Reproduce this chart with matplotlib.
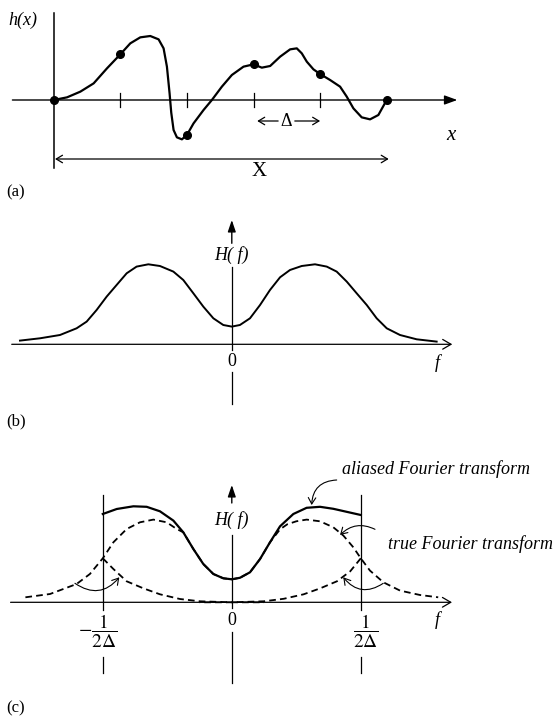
import matplotlib
matplotlib.use('Agg')
import matplotlib.pyplot as plt

plt.rcParams['font.family'] = ['Liberation Serif', 'DejaVu Serif']
plt.rcParams['mathtext.fontset'] = 'stix'

# ---------------- data ----------------
# (a) continuous function h(x), x in units of the sampling interval Delta
a_x = [0.0, 0.2, 0.4, 0.6, 0.8, 1.0, 1.15, 1.3, 1.45, 1.575, 1.65, 1.7, 1.74,
       1.765, 1.8, 1.85, 1.925, 2.0, 2.1, 2.25, 2.375, 2.525, 2.675, 2.85, 3.0,
       3.125, 3.25, 3.4, 3.55, 3.65, 3.725, 3.8, 3.9, 4.0, 4.15, 4.3, 4.4, 4.5,
       4.625, 4.75, 4.875, 5.0]
a_h = [0.0, 0.053, 0.167, 0.333, 0.633, 0.913, 1.133, 1.253, 1.28, 1.213, 1.033,
       0.667, 0.133, -0.253, -0.6, -0.747, -0.787, -0.7, -0.467, -0.2, 0.0, 0.267,
       0.5, 0.667, 0.713, 0.647, 0.68, 0.867, 1.013, 1.033, 0.933, 0.767, 0.613,
       0.52, 0.4, 0.267, 0.067, -0.167, -0.347, -0.387, -0.3, 0.0]
sample_x = [0, 1, 2, 3, 4, 5]
sample_h = [0.0, 0.913, -0.7, 0.713, 0.52, 0.0]
tick_x = [1, 2, 3, 4]

# (b) true Fourier transform H(f), f in units of 1/(2 Delta)
b_f = [-1.642, -1.487, -1.332, -1.203, -1.125, -1.048, -0.97, -0.893, -0.815,
       -0.738, -0.647, -0.557, -0.453, -0.376, -0.298, -0.221, -0.143, -0.066,
       0.0, 0.063, 0.141, 0.219, 0.296, 0.374, 0.451, 0.542, 0.645, 0.736, 0.813,
       0.891, 0.968, 1.046, 1.123, 1.201, 1.304, 1.433, 1.588]
b_H = [0.037, 0.06, 0.093, 0.16, 0.227, 0.343, 0.477, 0.593, 0.71, 0.777, 0.8,
       0.783, 0.727, 0.643, 0.51, 0.377, 0.26, 0.193, 0.177, 0.193, 0.26, 0.393,
       0.543, 0.67, 0.743, 0.783, 0.8, 0.777, 0.727, 0.627, 0.51, 0.393, 0.26,
       0.16, 0.093, 0.05, 0.027]

# (c) aliased transform (solid)
c_alias_f = [-1.0, -0.892, -0.763, -0.66, -0.557, -0.453, -0.376, -0.298, -0.221,
             -0.143, -0.066, 0.0, 0.063, 0.141, 0.219, 0.296, 0.374, 0.477, 0.58,
             0.684, 0.787, 0.89, 1.0]
c_alias_H = [0.883, 0.933, 0.96, 0.955, 0.91, 0.817, 0.7, 0.533, 0.383, 0.283,
             0.24, 0.23, 0.245, 0.3, 0.433, 0.6, 0.76, 0.883, 0.945, 0.955, 0.935,
             0.905, 0.873]
# (c) true transform (dashed)
c_true_f = [-1.6, -1.409, -1.203, -1.1, -1.0, -0.918, -0.815, -0.712, -0.608,
            -0.505, -0.427, -0.376, -0.298, -0.221, -0.143, -0.066, 0.0, 0.063,
            0.141, 0.219, 0.296, 0.374, 0.43, 0.5, 0.58, 0.684, 0.787, 0.865, 0.942,
            1.0, 1.071, 1.175, 1.304, 1.459, 1.6]
c_true_H = [0.05, 0.083, 0.183, 0.283, 0.44, 0.6, 0.733, 0.8, 0.827, 0.8, 0.733,
            0.7, 0.533, 0.383, 0.283, 0.24, 0.23, 0.245, 0.3, 0.433, 0.6, 0.73, 0.78,
            0.81, 0.827, 0.81, 0.75, 0.667, 0.55, 0.44, 0.317, 0.2, 0.117, 0.073,
            0.05]
# (c) folded (aliased) tails (dashed)
c_tailL_f = [-1.0, -0.918, -0.815, -0.686, -0.557, -0.402, -0.247, 0.0, 0.25]
c_tailL_H = [0.44, 0.333, 0.21, 0.14, 0.08, 0.033, 0.01, 0.0, 0.0]
c_tailR_f = [1.0, 0.918, 0.815, 0.686, 0.557, 0.402, 0.247, 0.0, -0.25]
c_tailR_H = [0.44, 0.31, 0.21, 0.14, 0.08, 0.035, 0.01, 0.0, 0.0]
nyquist_f = [-1, 1]

# ---------------- figure ----------------
W, HP = 554, 722
fig = plt.figure(figsize=(W / 100, HP / 100), dpi=100)


def panel(top, bot, ox, oy, sx, sy):
    ax = fig.add_axes([0, 1 - bot / HP, 1, (bot - top) / HP])
    ax.set_xlim(-ox / sx, (W - ox) / sx)
    ax.set_ylim((oy - bot) / sy, (oy - top) / sy)
    ax.axis('off')
    return ax


axA = panel(0, 210, 53.7, 100, 66.6, 50)
axB = panel(210, 440, 231.8, 344.3, 129, 100)
axC = panel(440, 722, 231.8, 602.3, 129, 100)

K = 'black'


def arrow(ax, p_from, p_to, style, lw=0.9, ms=10, cs=None):
    props = dict(arrowstyle=style, lw=lw, color=K, mutation_scale=ms,
                 shrinkA=0, shrinkB=0)
    if cs:
        props['connectionstyle'] = cs
    ax.annotate('', xy=p_to, xytext=p_from, arrowprops=props,
                annotation_clip=False)


def seg(ax, x, y, lw=0.9, **kw):
    ax.plot(x, y, color=K, lw=lw, clip_on=False, **kw)


TXT = dict(color=K, ha='center', va='center')

# ----- panel (a) -----
arrow(axA, (-0.62, 0), (6.06, 0), '-|>,head_length=0.55,head_width=0.2', lw=1.0, ms=14)
seg(axA, [0, 0], [1.734, -1.366], lw=1.1)
for t in tick_x:
    seg(axA, [t, t], [-0.134, 0.134])
axA.plot(a_x, a_h, color=K, lw=1.6, solid_joinstyle='round', solid_capstyle='round')
axA.plot(sample_x, sample_h, 'o', color=K, ms=5.5)
arrow(axA, (3.37, -0.42), (3.056, -0.42), '->,head_length=0.5,head_width=0.3', ms=9)
arrow(axA, (3.62, -0.42), (4.0, -0.42), '->,head_length=0.5,head_width=0.3', ms=9)
axA.text(3.49, -0.434, 'Δ', fontsize=13, **TXT)
arrow(axA, (0.02, -1.18), (5.03, -1.18), '<->,head_length=0.5,head_width=0.3', ms=9)
axA.text(3.09, -1.434, 'X', fontsize=15, **TXT)
axA.text(5.96, -0.7, 'x', fontsize=15, style='italic', **TXT)
axA.text(-0.456, 1.6, 'h(x)', fontsize=13, style='italic', **TXT)
axA.text(-0.566, -1.854, '(a)', fontsize=12, **TXT)

# ----- panel (b) -----
arrow(axB, (-1.706, 0), (1.709, 0), '->,head_length=0.6,head_width=0.35', ms=10)
arrow(axB, (0, 1.01), (0, 1.243), '-|>,head_length=0.5,head_width=0.17', lw=1.0, ms=14)
seg(axB, [0, 0], [0.776, -0.057])
seg(axB, [0, 0], [-0.274, -0.597])
axB.plot(b_f, b_H, color=K, lw=1.4, solid_joinstyle='round')
axB.text(0, 0.893, 'H( f)', fontsize=13, style='italic', **TXT)
axB.text(0, -0.174, '0', fontsize=13, **TXT)
axB.text(1.59, -0.19, 'f', fontsize=13, style='italic', **TXT)
axB.text(-1.673, -0.774, '(b)', fontsize=12, **TXT)

# ----- panel (c) -----
arrow(axC, (-1.715, 0), (1.707, 0), '->,head_length=0.6,head_width=0.35', ms=10)
arrow(axC, (0, 0.993), (0, 1.173), '-|>,head_length=0.5,head_width=0.17', lw=1.0, ms=14)
seg(axC, [0, 0], [0.673, -0.057])
seg(axC, [0, 0], [-0.297, -0.807])
for nf in nyquist_f:
    seg(axC, [nf, nf], [1.073, -0.077])
    seg(axC, [nf, nf], [-0.544, -0.71])
DASH = (0, (3.7, 2.3))
axC.plot(c_true_f, c_true_H, color=K, lw=1.3, linestyle=DASH)
axC.plot(c_tailL_f, c_tailL_H, color=K, lw=1.3, linestyle=DASH)
axC.plot(c_tailR_f, c_tailR_H, color=K, lw=1.3, linestyle=DASH)
axC.plot(c_alias_f, c_alias_H, color=K, lw=1.6, solid_joinstyle='round')

arrow(axC, (-1.216, 0.19), (-0.872, 0.25), '->,head_length=0.5,head_width=0.3', lw=0.8,
      ms=9, cs='arc3,rad=0.45')
arrow(axC, (1.174, 0.19), (0.864, 0.25), '->,head_length=0.5,head_width=0.3', lw=0.8,
      ms=9, cs='arc3,rad=-0.45')
arrow(axC, (0.813, 1.223), (0.619, 0.973), '->,head_length=0.5,head_width=0.3', lw=0.8,
      ms=9, cs='arc3,rad=0.45')
arrow(axC, (1.11, 0.73), (0.839, 0.673), '->,head_length=0.5,head_width=0.3', lw=0.8,
      ms=9, cs='arc3,rad=0.35')

axC.text(1.581, 1.33, 'aliased Fourier transform', fontsize=13, style='italic', **TXT)
axC.text(1.847, 0.583, 'true Fourier transform', fontsize=13, style='italic', **TXT)
axC.text(0, 0.823, 'H( f)', fontsize=13, style='italic', **TXT)
axC.text(0, -0.182, '0', fontsize=13, **TXT)
axC.text(1.59, -0.177, 'f', fontsize=13, style='italic', **TXT)
axC.text(-0.885, -0.287, r'$-\dfrac{1}{2\Delta}$', fontsize=14, color=K, ha='right',
         va='center')
axC.text(1.036, -0.287, r'$\dfrac{1}{2\Delta}$', fontsize=14, **TXT)
axC.text(-1.673, -1.06, '(c)', fontsize=12, **TXT)

fig.savefig('out.png', dpi=100)
